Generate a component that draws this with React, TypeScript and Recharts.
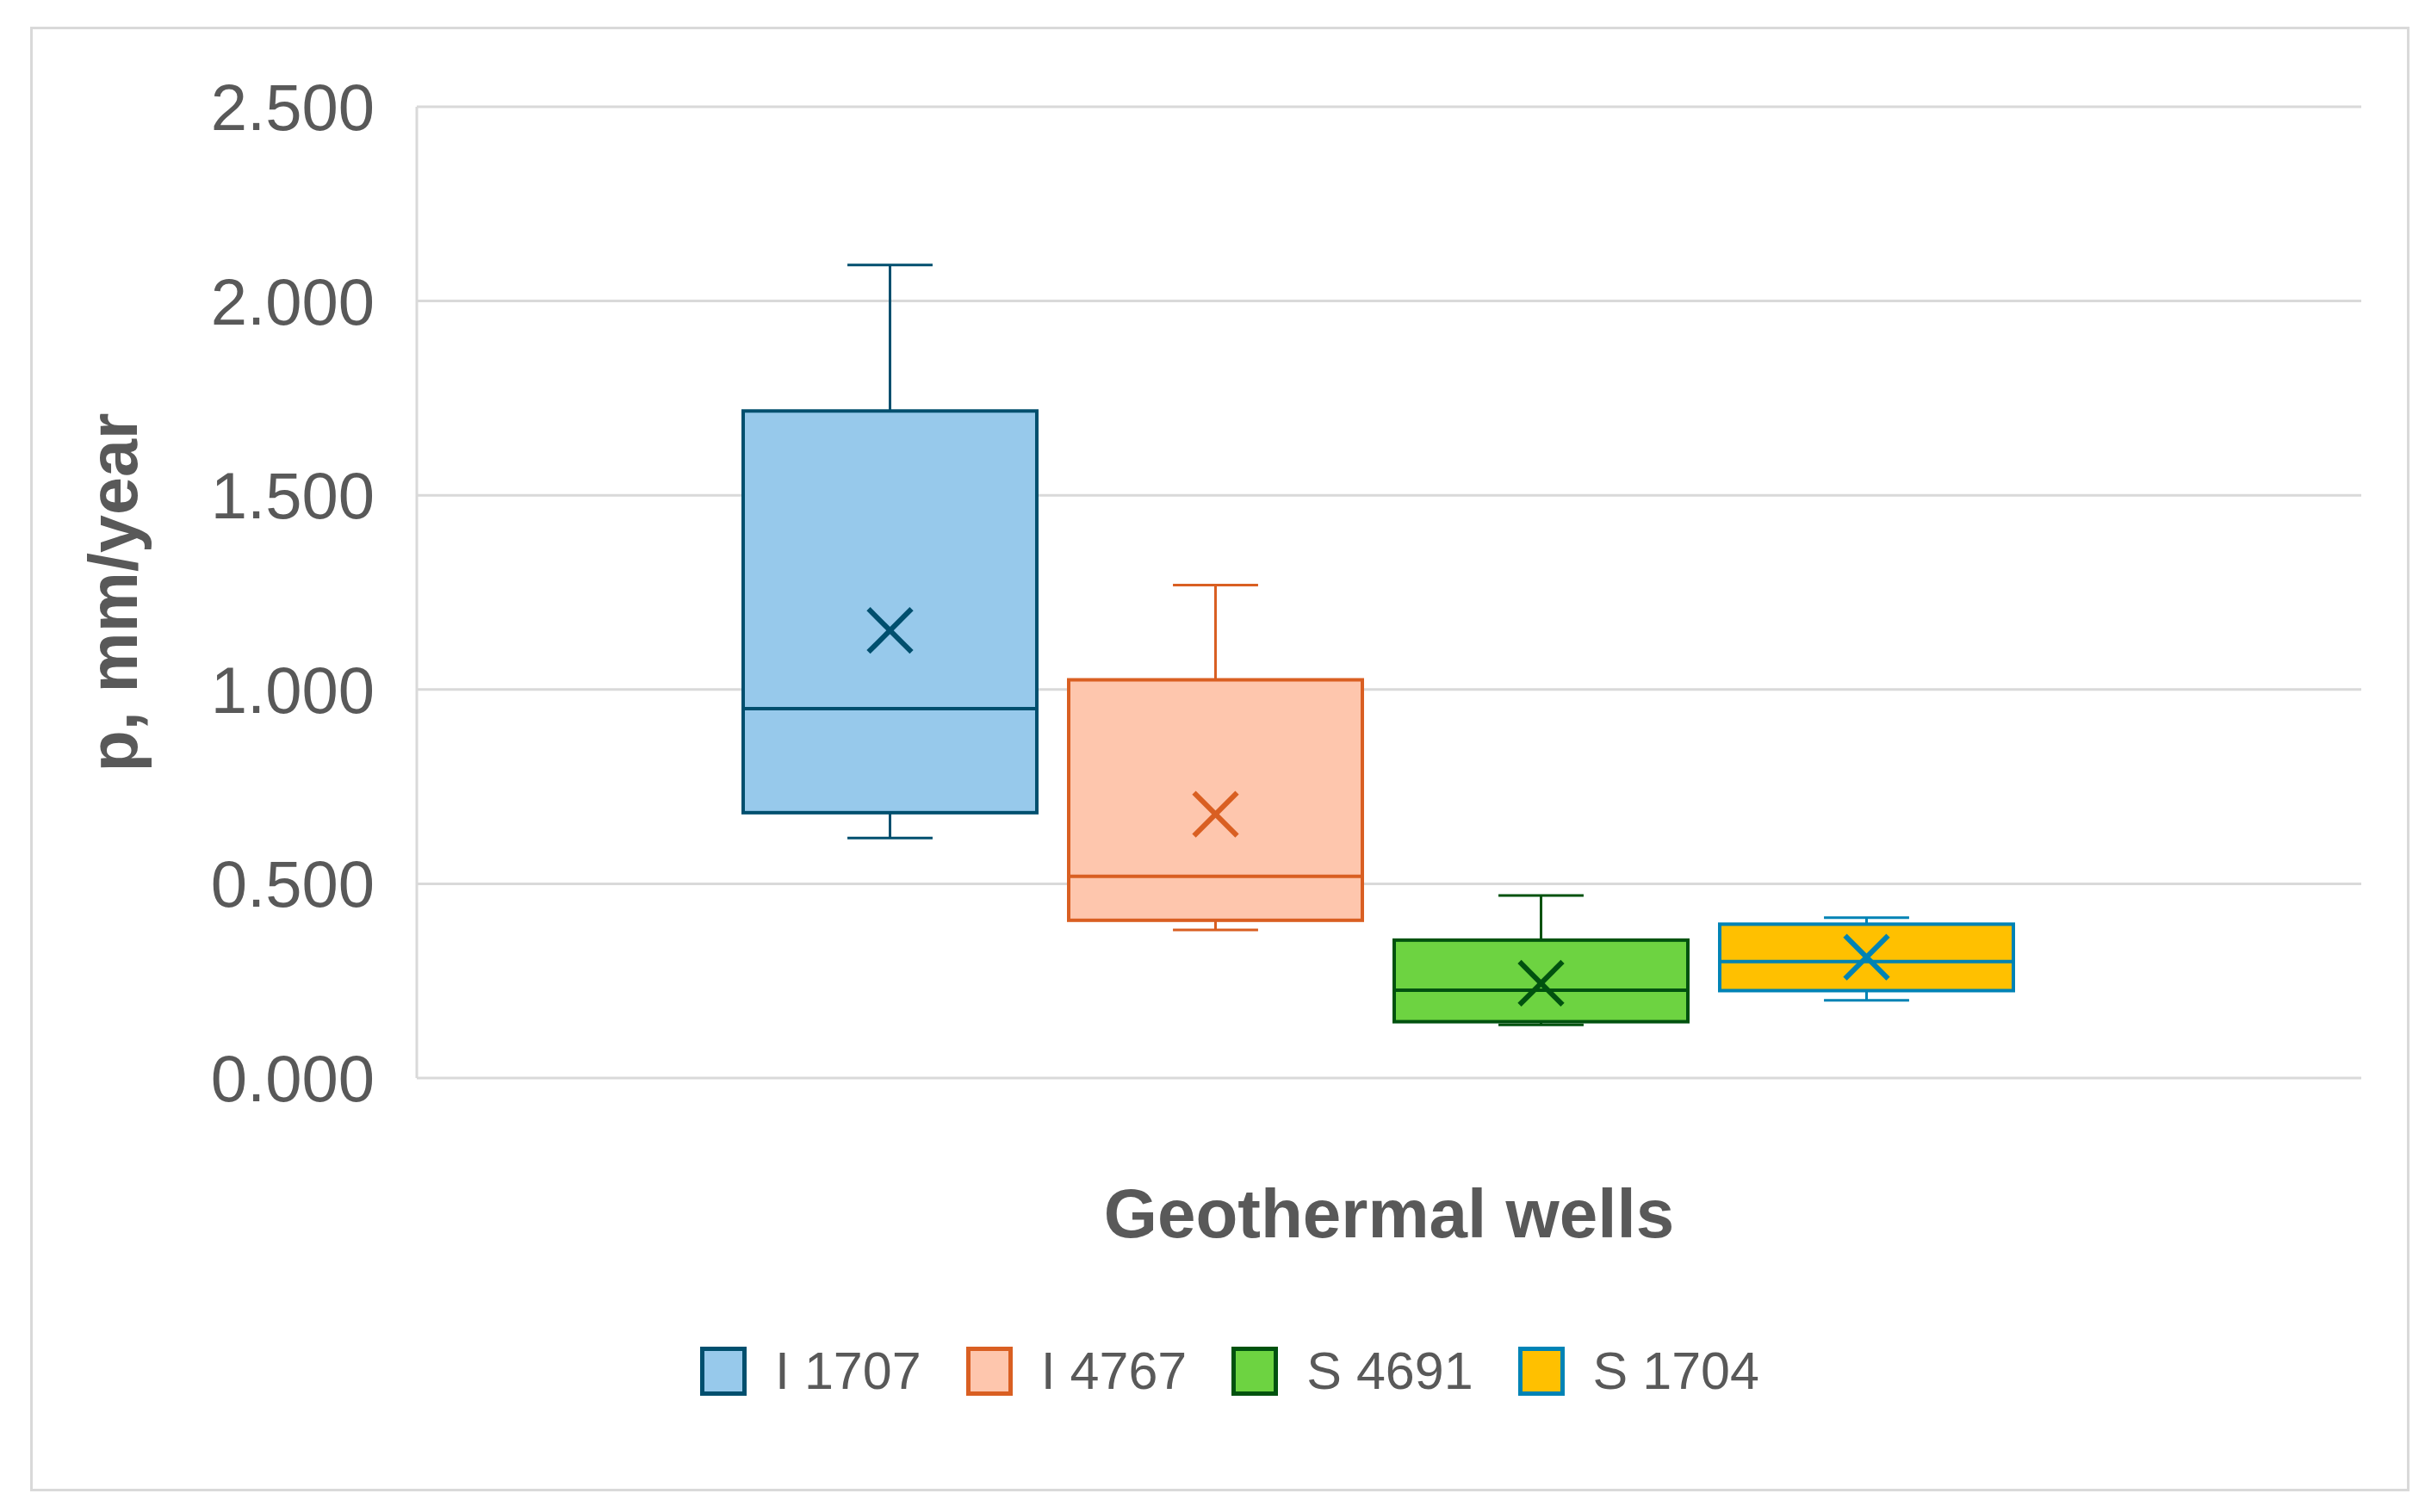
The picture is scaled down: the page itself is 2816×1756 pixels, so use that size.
import React from "react";
import { ComposedChart, Bar, XAxis, YAxis, CartesianGrid, Legend } from "recharts";

const wells = ["I 1707", "I 4767", "S 4691", "S 1704"];
const minValues = [0.618, 0.381, 0.137, 0.2];
const q1Values = [0.683, 0.406, 0.145, 0.225];
const medianValues = [0.951, 0.519, 0.226, 0.3];
const q3Values = [1.717, 1.025, 0.355, 0.396];
const maxValues = [2.093, 1.269, 0.47, 0.413];
const meanValues = [1.152, 0.679, 0.244, 0.311];
const yTicks = [0, 0.5, 1, 1.5, 2, 2.5];

const fills = ["#97c9eb", "#fec6ad", "#6dd341", "#ffc000"];
const strokes = ["#004f6e", "#d95f22", "#00520f", "#0083b5"];
const textColor = "#595959";
const gridColor = "#d9d9d9";

const row: Record<string, any> = { name: "Geothermal wells" };
wells.forEach((_, i) => {
  row["w" + i] = [q1Values[i], q3Values[i]];
});
const data = [row];

// box + whiskers + mean marker, positioned from the bar's own q1..q3 rectangle
const makeBox = (i: number) => (props: any) => {
  const { x, y, width, height } = props;
  const top = Math.min(y, y + height);
  const h = Math.abs(height);
  const k = h / (q3Values[i] - q1Values[i]);
  const py = (v: number) => top + (q3Values[i] - v) * k;
  const cx = x + width / 2;
  const cap = width * 0.29;
  const s = strokes[i];
  const yMax = py(maxValues[i]);
  const yMin = py(minValues[i]);
  const yMed = py(medianValues[i]);
  const yMean = py(meanValues[i]);
  const m = 25;
  return (
    <g>
      <line x1={cx} x2={cx} y1={yMax} y2={top} stroke={s} strokeWidth={3} />
      <line x1={cx - cap / 2} x2={cx + cap / 2} y1={yMax} y2={yMax} stroke={s} strokeWidth={3} />
      <line x1={cx} x2={cx} y1={top + h} y2={yMin} stroke={s} strokeWidth={3} />
      <line x1={cx - cap / 2} x2={cx + cap / 2} y1={yMin} y2={yMin} stroke={s} strokeWidth={3} />
      <rect x={x} y={top} width={width} height={h} fill={fills[i]} stroke={s} strokeWidth={4} />
      <line x1={x} x2={x + width} y1={yMed} y2={yMed} stroke={s} strokeWidth={4} />
      <line x1={cx - m} x2={cx + m} y1={yMean - m} y2={yMean + m} stroke={s} strokeWidth={6} />
      <line x1={cx - m} x2={cx + m} y1={yMean + m} y2={yMean - m} stroke={s} strokeWidth={6} />
    </g>
  );
};

const LegendContent = () => (
  <div style={{ height: 0, overflow: "visible" }}>
    <div
      style={{
        display: "flex",
        justifyContent: "center",
        alignItems: "center",
        gap: 52,
        paddingLeft: 40,
        height: 60,
      }}
    >
      {wells.map((w, i) => (
        <div key={w} style={{ display: "flex", alignItems: "center", gap: 33 }}>
          <span
            style={{
              display: "inline-block",
              width: 54,
              height: 57,
              boxSizing: "border-box",
              background: fills[i],
              border: `5px solid ${strokes[i]}`,
            }}
          />
          <span style={{ fontSize: 61, color: textColor, lineHeight: "60px" }}>{w}</span>
        </div>
      ))}
    </div>
  </div>
);

const YTitle = (props: any) => {
  const vb = props.viewBox;
  const tx = vb.x + 123;
  const ty = vb.y + vb.height / 2;
  return (
    <text
      x={tx}
      y={ty}
      transform={`rotate(-90 ${tx} ${ty})`}
      textAnchor="middle"
      fill={textColor}
      fontSize={79}
      fontWeight="bold"
    >
      p, mm/year
    </text>
  );
};

const XTitle = (props: any) => {
  const vb = props.viewBox;
  return (
    <text
      x={vb.x + vb.width / 2}
      y={vb.y + 185}
      textAnchor="middle"
      fill={textColor}
      fontSize={80}
      fontWeight="bold"
    >
      Geothermal wells
    </text>
  );
};

export default function App() {
  return (
    <div
      style={{
        position: "absolute",
        left: 0,
        top: 0,
        width: 2816,
        height: 1756,
        background: "#fff",
        fontFamily: '"Liberation Sans", Arial, sans-serif',
      }}
    >
      <div
        style={{
          position: "absolute",
          left: 35,
          top: 31,
          width: 2763,
          height: 1701,
          boxSizing: "border-box",
          border: `3px solid ${gridColor}`,
        }}
      />
      <div style={{ position: "absolute", left: 0, top: 0 }}>
        <ComposedChart
          width={2816}
          height={1756}
          data={data}
          margin={{ top: 124, right: 74, bottom: 304, left: 36 }}
          barGap={37}
        >
          <CartesianGrid vertical={false} stroke={gridColor} strokeWidth={3} />
          <XAxis
            dataKey="name"
            tick={false}
            axisLine={false}
            tickLine={false}
            height={200}
            padding={{ left: 0, right: 26 }}
            label={XTitle}
          />
          <YAxis
            domain={[0, 2.5]}
            ticks={yTicks}
            width={448}
            tickSize={0}
            tickMargin={49}
            tickLine={false}
            axisLine={{ stroke: gridColor, strokeWidth: 3 }}
            tick={{ fill: textColor, fontSize: 76 }}
            tickFormatter={(v: number) => v.toFixed(3)}
            label={YTitle}
          />
          <Legend
            content={LegendContent}
            wrapperStyle={{ top: 1562, left: 0, width: 2816, bottom: "auto" }}
          />
          {wells.map((w, i) => (
            <Bar
              key={w}
              dataKey={"w" + i}
              name={w}
              barSize={341}
              shape={makeBox(i)}
              activeBar={false}
              isAnimationActive={false}
            />
          ))}
        </ComposedChart>
      </div>
    </div>
  );
}
